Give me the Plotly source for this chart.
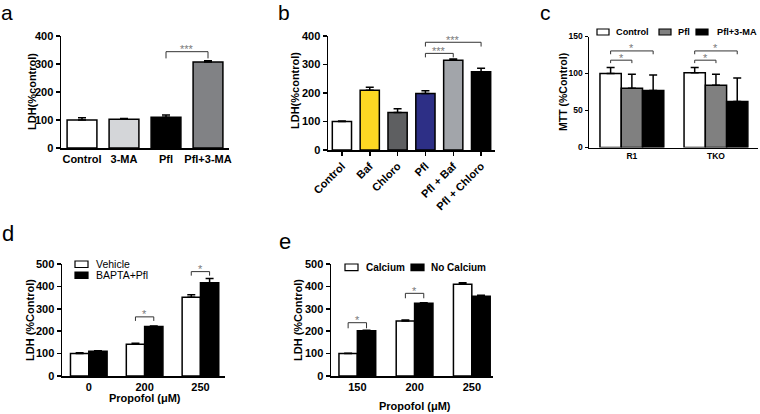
import plotly.graph_objects as go

W, H = 760, 414
FONT = "Liberation Sans, Arial, Helvetica, sans-serif"

# ---------------- data ----------------
# panel a
a_categories = ["Control", "3-MA", "Pfl", "Pfl+3-MA"]
a_values = [100, 103, 110, 307]
a_errors = [8, 2, 8, 5]
a_brackets = [("Pfl", "Pfl+3-MA", 320, 344, "***")]

# panel b
b_categories = ["Control", "Baf", "Chloro", "Pfl", "Pfl + Baf", "Pfl + Chloro"]
b_values = [100, 210, 132, 198, 315, 275]
b_errors = [2, 10, 13, 10, 4, 12]
b_brackets = [("Pfl", "Pfl + Baf", 325, 339, "***"),
              ("Pfl", "Pfl + Chloro", 363, 378, "***")]

# panel c
c_groups = ["R1", "TKO"]
c_series = ["Control", "Pfl", "Pfl+3-MA"]
c_control = [100, 101]
c_pfl = [80, 84]
c_pfl_3ma = [77, 62]
c_control_err = [8, 7]
c_pfl_err = [19, 15]
c_pfl_3ma_err = [21, 32]
# (group, from series, to series, leg bottom, top, label)
c_brackets = [("R1", "Control", "Pfl", 114, 118, "*"),
              ("R1", "Control", "Pfl+3-MA", 126, 130.5, "*"),
              ("TKO", "Control", "Pfl", 114, 118, "*"),
              ("TKO", "Control", "Pfl+3-MA", 126, 130.5, "*")]

# panel d
d_groups = ["0", "200", "250"]
d_series = ["Vehicle", "BAPTA+Pfl"]
d_vehicle = [100, 142, 352]
d_bapta = [111, 221, 416]
d_vehicle_err = [4, 4, 11]
d_bapta_err = [2, 2, 19]
d_brackets = [("200", "Vehicle", "BAPTA+Pfl", 246, 264, "*"),
              ("250", "Vehicle", "BAPTA+Pfl", 448, 466, "*")]

# panel e
e_groups = ["150", "200", "250"]
e_series = ["Calcium", "No Calcium"]
e_calcium = [100, 245, 410]
e_no_calcium = [202, 325, 356]
e_calcium_err = [2, 5, 6]
e_no_calcium_err = [2, 2, 5]
e_brackets = [("150", "Calcium", "No Calcium", 213, 238, "*"),
              ("200", "Calcium", "No Calcium", 347, 369, "*")]

# ---------------- styles / layout ----------------
a_colors = ["#ffffff", "#d4d6d9", "#000000", "#818285"]
b_colors = ["#ffffff", "#fdd823", "#5e5f61", "#2d2f86", "#a2a5aa", "#000000"]
c_colors = ["#ffffff", "#808080", "#000000"]
d_colors = ["#ffffff", "#000000"]
e_colors = ["#ffffff", "#000000"]

# pixel geometry of each panel: x domain, y domain (top, bottom)
P = {
    "a": dict(ax="", xd=(61, 229), yd=(36, 148), xr=[-0.5, 3.5], yr=[0, 400], dt=100, bw=0.71, fs=11),
    "b": dict(ax="2", xd=(328, 495), yd=(36, 150), xr=[-0.5, 5.5], yr=[0, 400], dt=100, bw=0.69, fs=11),
    "c": dict(ax="3", xd=(589, 758), yd=(36.5, 147.5), xr=[-0.51, 1.5], yr=[0, 150], dt=50, bw=0.253, fs=8.5),
    "d": dict(ax="4", xd=(62, 225), yd=(264, 376), xr=[-0.48, 2.44], yr=[0, 500], dt=100, bw=0.328, fs=11),
    "e": dict(ax="5", xd=(331, 493), yd=(264, 376), xr=[-0.46, 2.37], yr=[0, 500], dt=100, bw=0.321, fs=11),
}


def fx(p):
    return p / W


def fy(p):
    return 1 - p / H


fig = go.Figure()
shapes = []
annotations = []
ERR = dict(type="data", symmetric=False, color="black", thickness=1.5, width=4)
LINE = dict(color="black", width=1.5)
BR = dict(color="#333333", width=1)


def axes_of(p):
    return "x" + P[p]["ax"], "y" + P[p]["ax"]


def add_bracket(p, x1, x2, low, high, label):
    xr, yr = axes_of(p)
    for (u0, v0, u1, v1) in [(x1, low, x1, high), (x1, high, x2, high), (x2, high, x2, low)]:
        shapes.append(dict(type="line", xref=xr, yref=yr, x0=u0, y0=v0, x1=u1, y1=v1, line=BR))
    annotations.append(dict(xref=xr, yref=yr, x=(x1 + x2) / 2, y=high, text=label,
                            showarrow=False, yanchor="middle", yshift=2.5,
                            font=dict(family=FONT, size=11, color="#7a7a7a")))


def simple_panel(p, cats, vals, errs, colors, brackets):
    xr, yr = axes_of(p)
    fig.add_trace(go.Bar(x=cats, y=vals, width=P[p]["bw"], marker=dict(color=colors, line=LINE),
                         error_y=dict(ERR, array=errs, arrayminus=[0] * len(errs)),
                         xaxis=xr, yaxis=yr, showlegend=False, hoverinfo="skip"))
    for (c1, c2, low, high, lab) in brackets:
        add_bracket(p, cats.index(c1), cats.index(c2), low, high, lab)


def grouped_panel(p, groups, names, series, errs, colors, brackets):
    xr, yr = axes_of(p)
    bw = P[p]["bw"]
    n = len(names)
    offs = [-n * bw / 2 + k * bw for k in range(n)]
    for k in range(n):
        fig.add_trace(go.Bar(x=groups, y=series[k], name=names[k], width=bw, offset=offs[k],
                             marker=dict(color=colors[k], line=LINE),
                             error_y=dict(ERR, array=errs[k], arrayminus=[0] * len(errs[k])),
                             xaxis=xr, yaxis=yr, showlegend=False, hoverinfo="skip"))
    for (g, s1, s2, low, high, lab) in brackets:
        gi = groups.index(g)
        x1 = gi + offs[names.index(s1)] + bw / 2
        x2 = gi + offs[names.index(s2)] + bw / 2
        add_bracket(p, x1, x2, low, high, lab)


simple_panel("a", a_categories, a_values, a_errors, a_colors, a_brackets)
simple_panel("b", b_categories, b_values, b_errors, b_colors, b_brackets)
grouped_panel("c", c_groups, c_series, [c_control, c_pfl, c_pfl_3ma],
              [c_control_err, c_pfl_err, c_pfl_3ma_err], c_colors, c_brackets)
grouped_panel("d", d_groups, d_series, [d_vehicle, d_bapta],
              [d_vehicle_err, d_bapta_err], d_colors, d_brackets)
grouped_panel("e", e_groups, e_series, [e_calcium, e_no_calcium],
              [e_calcium_err, e_no_calcium_err], e_colors, e_brackets)

# axes
for p, cfg in P.items():
    s = cfg["ax"]
    bold = dict(family=FONT, size=cfg["fs"], color="black", weight="bold")
    fig.layout["xaxis" + s] = dict(
        domain=[fx(cfg["xd"][0]), fx(cfg["xd"][1])], anchor="y" + s, type="category",
        range=cfg["xr"], showline=True, linecolor="black", linewidth=1.5,
        ticks="outside" if p == "b" else "", ticklen=4, tickwidth=1.5, tickcolor="black",
        tickangle=-45 if p == "b" else 0,
        showgrid=False, zeroline=False, tickfont=bold, fixedrange=True, automargin=False)
    fig.layout["yaxis" + s] = dict(
        domain=[fy(cfg["yd"][1]), fy(cfg["yd"][0])], anchor="x" + s,
        range=cfg["yr"], dtick=cfg["dt"], tick0=0, showline=True, linecolor="black",
        linewidth=1.5, ticks="outside", ticklen=4 if p != "c" else 3, tickwidth=1.5,
        tickcolor="black", showgrid=False, zeroline=False, tickfont=bold, fixedrange=True,
        automargin=False)


def text(xp, yp, t, size, bold=True, angle=0, xanchor="center", yanchor="middle", pad=1):
    annotations.append(dict(xref="paper", yref="paper", x=fx(xp), y=fy(yp), text=t,
                            showarrow=False, textangle=angle, xanchor=xanchor, yanchor=yanchor,
                            borderpad=pad,
                            font=dict(family=FONT, size=size, color="black",
                                      weight="bold" if bold else "normal")))


# axis titles
text(32, 92, "LDH(%control)", 11, angle=-90)
text(295, 91, "LDH(%control)", 11, angle=-90)
text(563, 92, "MTT (%Control)", 10.5, angle=-90)
text(30, 320, "LDH (%Control)", 11, angle=-90)
text(298, 320, "LDH (%Control)", 11, angle=-90)
text(145, 398, "Propofol (\u03bcM)", 11)
text(415, 406, "Propofol (\u03bcM)", 11)

# panel letters
for lab, xp, yp in [("a", 0, 0), ("b", 277, 0), ("c", 539, 0)]:
    text(xp, yp, lab, 21, bold=False, xanchor="left", yanchor="top", pad=0)
for lab, xp, yp in [("d", 0, 248), ("e", 277, 256)]:
    text(xp, yp, lab, 22, bold=False, xanchor="left", yanchor="bottom")


# legends (swatch boxes + labels)
def legend_item(x0, y0, x1, y1, color, label, tx, size, bold):
    shapes.append(dict(type="rect", xref="paper", yref="paper", x0=fx(x0), x1=fx(x1),
                       y0=fy(y1), y1=fy(y0), fillcolor=color,
                       line=dict(color="black", width=1.2)))
    text(tx, (y0 + y1) / 2, label, size, bold=bold, xanchor="left")


for (x0, tx), name, col in zip([(597, 614), (659, 676), (696, 715)], c_series, c_colors):
    legend_item(x0, 29, x0 + 12, 35, col, name, tx, 9.2, True)
for (y0, name, col) in zip([261, 272], d_series, d_colors):
    legend_item(75, y0, 88, y0 + 6.5, col, name, 94, 10.5, False)
for (x0, tx), name, col in zip([(345, 364), (411, 429)], e_series, e_colors):
    legend_item(x0, 264, x0 + 13, 270.7, col, name, tx, 10, True)

fig.update_layout(width=W, height=H,
                  margin=dict(l=0, r=0, t=0, b=0, pad=0, autoexpand=False),
                  paper_bgcolor="white", plot_bgcolor="white", barmode="overlay",
                  shapes=shapes, annotations=annotations, showlegend=False,
                  font=dict(family=FONT, color="black"))

# remove the default page margin so the 760x414 figure fills the window exactly
fig.write_html("out.html", config={"displayModeBar": False, "staticPlot": True},
               post_script="document.body.style.margin='0';document.body.style.overflow='hidden';")
